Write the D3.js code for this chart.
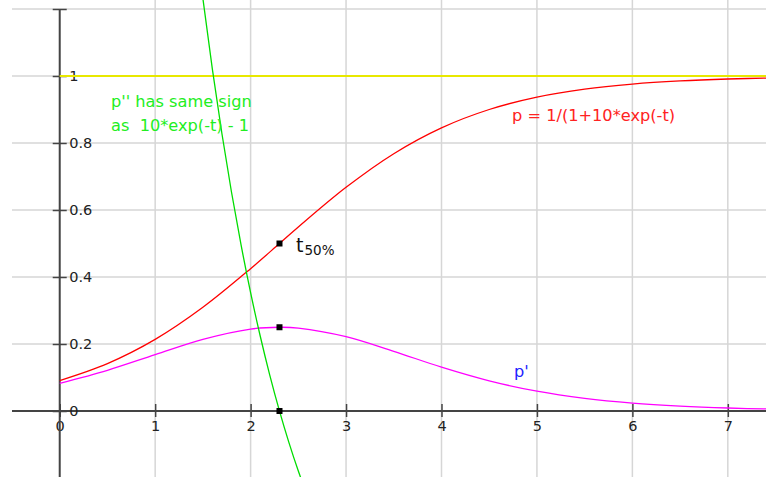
<!DOCTYPE html>
<html><head><meta charset="utf-8">
<script src="https://cdn.jsdelivr.net/npm/d3@7"></script>
<style>
html,body{margin:0;padding:0;background:#fff;}
svg{display:block;font-family:"DejaVu Sans",sans-serif;}
</style></head>
<body>
<svg id="c" width="766" height="477"></svg>
<script>
// t values and read-off series
const tMain = [0, 0.5, 1, 1.5, 2, 2.3026, 2.5, 3, 3.5, 4, 4.5, 5, 5.5, 6, 6.5, 7, 7.5];
const pValues = [0.0909, 0.1415, 0.2137, 0.3095, 0.4249, 0.5, 0.5492, 0.6676, 0.7681, 0.8452, 0.9000, 0.9369, 0.9607, 0.9758, 0.9852, 0.9910, 0.9945];
const dpValues = [0.0826, 0.1215, 0.1680, 0.2137, 0.2444, 0.25, 0.2476, 0.2219, 0.1781, 0.1308, 0.0900, 0.0591, 0.0378, 0.0236, 0.0146, 0.0089, 0.0055];
const tGreen = [1.4, 1.5, 1.6, 1.7, 1.8, 1.9, 2.0, 2.1, 2.2, 2.3, 2.4, 2.5, 2.6];
const greenValues = [1.466, 1.2313, 1.019, 0.8268, 0.653, 0.4957, 0.3534, 0.2246, 0.108, 0.0026, -0.0928, -0.1792, -0.2573];
const limitT = [0, 7.5];
const limitValues = [1, 1];
const markT = [2.3026, 2.3026, 2.3026];
const markValues = [0.5, 0.25, 0];
const xTicks = [0, 1, 2, 3, 4, 5, 6, 7];
const yTicks = [0, 0.2, 0.4, 0.6, 0.8, 1, 1.2];
const yTickLabels = ["0", "0.2", "0.4", "0.6", "0.8", "1", ""];

const svg = d3.select("#c");
const W = 766, H = 477;
const x = d3.scaleLinear().domain([-0.5, 7.4]).range([12, 766]);
const y = d3.scaleLinear().domain([-0.2, 1.2]).range([478, 9]);

// grid
const grid = svg.append("g").attr("stroke", "#d6d6d6").attr("stroke-width", 1.5);
grid.selectAll("line.v").data(xTicks.filter(d => d !== 0)).join("line")
  .attr("x1", d => x(d)).attr("x2", d => x(d)).attr("y1", 0).attr("y2", H);
grid.selectAll("line.h").data(yTicks.filter(d => d !== 0)).join("line")
  .attr("x1", 12).attr("x2", W).attr("y1", d => y(d)).attr("y2", d => y(d));

// axes
const axCol = "#444";
const xAxis = d3.axisBottom(x).tickValues(xTicks).tickSize(0).tickFormat(d3.format("d"));
const gx = svg.append("g").attr("transform", `translate(0,${y(0)})`).call(xAxis);
gx.select(".domain").remove();
gx.selectAll(".tick text").attr("fill", "#222").attr("font-size", 14.5).attr("dy", null).attr("y", 20)
  .attr("font-family", "DejaVu Sans");
gx.selectAll(".tick").append("line").attr("y1", -7).attr("y2", 6).attr("stroke", axCol).attr("stroke-width", 1.5);
svg.append("line").attr("x1", 12).attr("x2", W).attr("y1", y(0)).attr("y2", y(0)).attr("stroke", axCol).attr("stroke-width", 2);

const yAxis = d3.axisRight(y).tickValues(yTicks).tickSize(0).tickFormat((d, i) => yTickLabels[i]);
const gy = svg.append("g").attr("transform", `translate(${x(0)},0)`).call(yAxis);
gy.select(".domain").remove();
gy.selectAll(".tick text").attr("fill", "#222").attr("font-size", 14.5).attr("x", 9.5)
  .attr("font-family", "DejaVu Sans");
gy.selectAll(".tick").append("line").attr("x1", -7).attr("x2", 7).attr("stroke", axCol).attr("stroke-width", 1.5);
svg.append("line").attr("x1", x(0)).attr("x2", x(0)).attr("y1", y(1.2)).attr("y2", H).attr("stroke", axCol).attr("stroke-width", 2);

// curves
const line = d3.line().x(d => x(d[0])).y(d => y(d[1])).curve(d3.curveCatmullRom);
const zip = (a, b) => a.map((v, i) => [v, b[i]]);
svg.append("path").datum(zip(limitT, limitValues)).attr("d", d3.line().x(d => x(d[0])).y(d => y(d[1])))
  .attr("fill", "none").attr("stroke", "#e8e800").attr("stroke-width", 2);
svg.append("path").datum(zip(tMain, pValues)).attr("d", line)
  .attr("fill", "none").attr("stroke", "#ff0000").attr("stroke-width", 1.3);
svg.append("path").datum(zip(tMain, dpValues)).attr("d", line)
  .attr("fill", "none").attr("stroke", "#ff00ff").attr("stroke-width", 1.3);
svg.append("path").datum(zip(tGreen, greenValues)).attr("d", line)
  .attr("fill", "none").attr("stroke", "#00dd00").attr("stroke-width", 1.3);

// markers
svg.selectAll("rect.m").data(zip(markT, markValues)).join("rect")
  .attr("x", d => x(d[0]) - 3).attr("y", d => y(d[1]) - 3).attr("width", 6).attr("height", 6).attr("fill", "#000");

// labels
const green = "#22ee22";
svg.append("text").attr("x", 111).attr("y", 107).attr("font-size", 16.2).attr("fill", green).text("p'' has same sign");
svg.append("text").attr("x", 111).attr("y", 131).attr("font-size", 16.2).attr("fill", green).attr("xml:space", "preserve")
  .style("white-space", "pre").text("as  10*exp(-t) - 1");
svg.append("text").attr("x", 512).attr("y", 121).attr("font-size", 16.2).attr("fill", "#ff2222").text("p = 1/(1+10*exp(-t)");
svg.append("text").attr("x", 514).attr("y", 377).attr("font-size", 16.2).attr("fill", "#2222ff").text("p'");
const t50 = svg.append("text").attr("x", 296).attr("y", 252).attr("fill", "#111").attr("font-size", 19);
t50.append("tspan").text("t");
t50.append("tspan").attr("font-size", 13.5).attr("dy", 3).attr("dx", 1).text("50%");
</script>
</body></html>
